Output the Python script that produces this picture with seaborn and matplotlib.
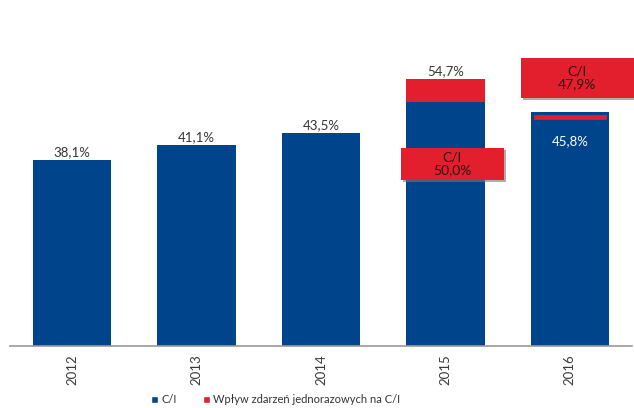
import matplotlib
matplotlib.use("Agg")
import matplotlib.pyplot as plt
import matplotlib.patheffects as pe
from matplotlib.patches import Rectangle, Patch
import seaborn as sns
import pandas as pd

# Cost/income ratio by year (%), plus the one-off effect stacked on top
years = ["2012", "2013", "2014", "2015", "2016"]
ci = [38.1, 41.1, 43.5, 50.0, 45.8]
one_off = [0.0, 0.0, 0.0, 4.7, 2.1]
bar_labels = ["38,1%", "41,1%", "43,5%", "54,7%", "45,8%"]
box_labels = {3: "C/I\n50,0%", 4: "C/I\n47,9%"}
legend_labels = ["C/I", "Wpływ zdarzeń jednorazowych na C/I"]

BLUE = "#00458B"
RED = "#E31F2D"
TEXT = "#333333"
BAR_W = 0.63

sns.set_theme(style="white")
plt.rcParams["font.family"] = ["Lato", "DejaVu Sans"]

df = pd.DataFrame({"rok": years, "ci": ci, "one_off": one_off})
df["total"] = df["ci"] + df["one_off"]

fig = plt.figure(figsize=(6.34, 4.08), dpi=100)
ax = fig.add_axes([10 / 634, 62.3 / 408, 622 / 634, 345.7 / 408])

# blue C/I bars
sns.barplot(data=df, x="rok", y="ci", color=BLUE, saturation=1,
            width=BAR_W, ax=ax, linewidth=0)

# one-off effect stacked on top of the C/I bars
seg = ax.bar(range(len(years)), df["one_off"], bottom=df["ci"],
             width=BAR_W, color=RED, linewidth=0, zorder=3)
for p, o in zip(seg.patches, one_off):
    if o == 0:
        p.set_visible(False)
# the 2016 segment is framed in blue (border kept inside the segment)
p16 = seg.patches[4]
p16.set_edgecolor(BLUE)
p16.set_linewidth(3.8)
p16.set_clip_path(p16)

ax.set_xlim(-0.5, 4.5)
ax.set_ylim(0, 70.8)
ax.set_xlabel("")
ax.set_ylabel("")
ax.set_yticks([])
for s in ["left", "right", "top"]:
    ax.spines[s].set_visible(False)
ax.spines["bottom"].set_color("#9a9a9a")
ax.spines["bottom"].set_linewidth(1.2)
ax.tick_params(axis="x", length=0, pad=6, labelsize=9.5, labelcolor="#3a3a3a",
               rotation=90)

# value labels
for i, lab in enumerate(bar_labels):
    if i < 4:
        ax.text(i, df["total"][i] + 0.35, lab, ha="center", va="bottom",
                fontsize=9.5, color=TEXT)
    else:
        ax.text(i, ci[i] - 4.0, lab, ha="center", va="center",
                fontsize=9.5, color="white")

# callout boxes with the C/I value
box_geom = {3: (3.056, 33.95, 0.83, 6.55), 4: (4.06, 50.75, 0.91, 8.2)}
for i, (cx, y0, w, h) in box_geom.items():
    rect = Rectangle((cx - w / 2, y0), w, h, facecolor=RED, edgecolor="none",
                     clip_on=False, zorder=5,
                     path_effects=[pe.SimplePatchShadow(offset=(1.5, -1.5),
                                                        shadow_rgbFace="#777777",
                                                        alpha=0.6),
                                   pe.Normal()])
    ax.add_patch(rect)
    ax.text(cx, y0 + h / 2, box_labels[i], ha="center", va="center",
            fontsize=10, color="#2a1414", linespacing=1.1, zorder=6,
            clip_on=False)

handles = [Patch(facecolor=BLUE), Patch(facecolor=RED)]
fig.legend(handles, legend_labels, loc="center", bbox_to_anchor=(0.435, 0.02),
           ncol=2, frameon=False, fontsize=8.0, handlelength=0.6,
           handleheight=0.7, handletextpad=0.3, columnspacing=2.4,
           labelcolor="#333333")

fig.savefig("out.png", dpi=100)
